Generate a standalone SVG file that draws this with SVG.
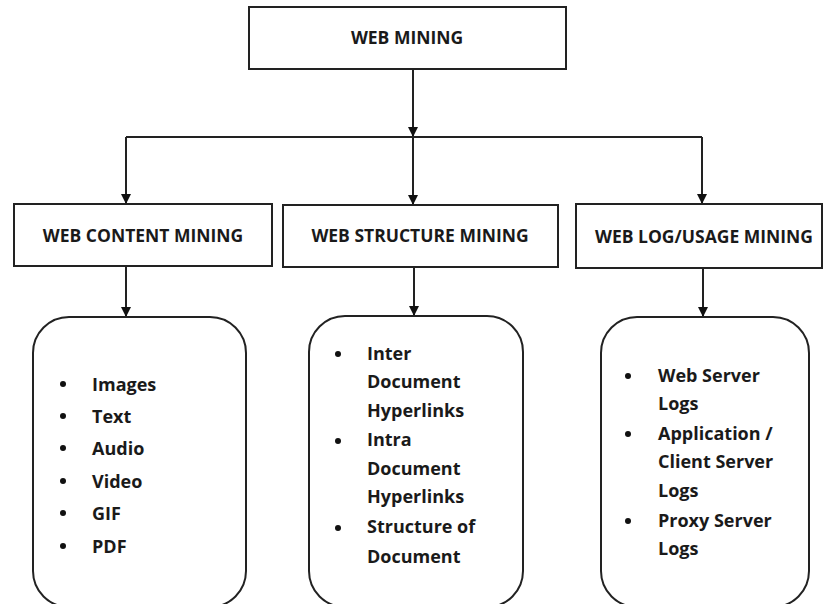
<svg xmlns="http://www.w3.org/2000/svg" width="824" height="604" viewBox="0 0 824 604">
<style>
.box{fill:#fff;stroke:#222;stroke-width:2}
.hd{font-family:"Open Sans","Liberation Sans",sans-serif;font-weight:bold;font-size:17.5px;fill:#1a1a1a;text-anchor:middle}
.li{font-family:"Open Sans","Liberation Sans",sans-serif;font-weight:bold;font-size:18px;fill:#1a1a1a}
.bul{fill:#111}
.con{fill:none;stroke:#222;stroke-width:2}
</style>
<defs>
<marker id="ar" markerWidth="10" markerHeight="10" refX="9" refY="5" orient="auto" markerUnits="userSpaceOnUse" viewBox="0 0 10 10">
<path d="M0,0 L10,5 L0,10 Z" fill="#111"/>
</marker>
</defs>
<g id="connectors">
<path class="con" d="M413,69 V136" marker-end="url(#ar)"/>
<path class="con" d="M126,137 H702"/>
<path class="con" d="M126,137 V203" marker-end="url(#ar)"/>
<path class="con" d="M413,137 V204" marker-end="url(#ar)"/>
<path class="con" d="M702,137 V203" marker-end="url(#ar)"/>
<path class="con" d="M126,266 V316" marker-end="url(#ar)"/>
<path class="con" d="M414,267 V315" marker-end="url(#ar)"/>
<path class="con" d="M703,268 V316" marker-end="url(#ar)"/>
</g>
<g id="web-mining">
<rect class="box" x="249" y="7" width="317" height="62"/>
<text class="hd" x="407" y="44">WEB MINING</text>
</g>
<g id="web-content-mining">
<rect class="box" x="14" y="204" width="258" height="62"/>
<text class="hd" x="143" y="242">WEB CONTENT MINING</text>
</g>
<g id="web-structure-mining">
<rect class="box" x="283" y="205" width="275" height="62"/>
<text class="hd" x="420" y="242">WEB STRUCTURE MINING</text>
</g>
<g id="web-log-usage-mining">
<rect class="box" x="576" y="204" width="246" height="64"/>
<text class="hd" x="704" y="243">WEB LOG/USAGE MINING</text>
</g>
<g id="content-list">
<rect class="box" x="33" y="317" width="213" height="290" rx="36" ry="36"/>
<g class="bul"><circle cx="63" cy="384" r="3"/><circle cx="63" cy="416" r="3"/><circle cx="63" cy="448" r="3"/><circle cx="63" cy="481" r="3"/><circle cx="63" cy="513" r="3"/><circle cx="63" cy="546" r="3"/></g>
<text class="li" x="92" y="391">Images</text>
<text class="li" x="92" y="423">Text</text>
<text class="li" x="92" y="455">Audio</text>
<text class="li" x="92" y="488">Video</text>
<text class="li" x="92" y="520">GIF</text>
<text class="li" x="92" y="553">PDF</text>
</g>
<g id="structure-list">
<rect class="box" x="309" y="316" width="214" height="291" rx="36" ry="36"/>
<g class="bul"><circle cx="338" cy="354" r="3"/><circle cx="338" cy="441" r="3"/><circle cx="338" cy="528" r="3"/></g>
<text class="li" x="367" y="360">Inter</text>
<text class="li" x="367" y="388">Document</text>
<text class="li" x="367" y="417">Hyperlinks</text>
<text class="li" x="367" y="446">Intra</text>
<text class="li" x="367" y="475">Document</text>
<text class="li" x="367" y="503">Hyperlinks</text>
<text class="li" x="367" y="533">Structure of</text>
<text class="li" x="367" y="563">Document</text>
</g>
<g id="log-list">
<rect class="box" x="601" y="317" width="208" height="290" rx="36" ry="36"/>
<g class="bul"><circle cx="628" cy="376" r="3"/><circle cx="628" cy="434" r="3"/><circle cx="628" cy="521" r="3"/></g>
<text class="li" x="658" y="382">Web Server</text>
<text class="li" x="658" y="410">Logs</text>
<text class="li" x="658" y="440">Application /</text>
<text class="li" x="658" y="468">Client Server</text>
<text class="li" x="658" y="497">Logs</text>
<text class="li" x="658" y="527">Proxy Server</text>
<text class="li" x="658" y="555">Logs</text>
</g>
</svg>
